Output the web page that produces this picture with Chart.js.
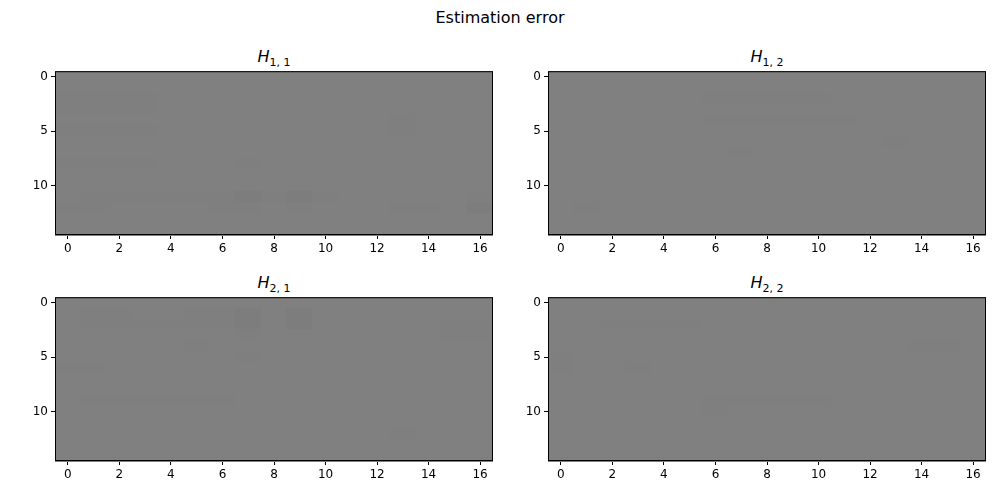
<!DOCTYPE html>
<html><head><meta charset="utf-8">
<script src="https://cdn.jsdelivr.net/npm/chart.js@4"></script>
<style>
body{margin:0;width:1000px;height:500px;background:#fff;position:relative;font-family:"DejaVu Sans";overflow:hidden}
.t{position:absolute;font-size:16px;text-align:center;width:440px}
.c{position:absolute}
</style></head><body>
<div style="position:absolute;top:8px;width:1000px;text-align:center;font-size:16px">Estimation error</div>
<div class="t" style="left:54px;top:47px"><i>H</i><sub style="font-size:11px">1, 1</sub></div>
<div class="t" style="left:547px;top:47px"><i>H</i><sub style="font-size:11px">1, 2</sub></div>
<div class="t" style="left:54px;top:273px"><i>H</i><sub style="font-size:11px">2, 1</sub></div>
<div class="t" style="left:547px;top:273px"><i>H</i><sub style="font-size:11px">2, 2</sub></div>
<canvas id="c0" class="c" style="left:15px;top:61px"></canvas>
<canvas id="c1" class="c" style="left:508px;top:61px"></canvas>
<canvas id="c2" class="c" style="left:15px;top:287px"></canvas>
<canvas id="c3" class="c" style="left:508px;top:287px"></canvas>
<script>
const xTicks=[0,2,4,6,8,10,12,14,16];
const yTicks=[0,5,10];
// deviation from mid-gray (128), per row (15 rows x 17 cols)
const H11=["00000000000000000","00000000000000000","11110000000000000","11110000000000000","00000000000001000",
"11110000000001000","00000000000000000","00000000000000000","11110001000000000","00000000000000000",
"00000000000000000","01111112121000001","11000011010001102","00000000000000000","00000000000000000"];
const H12=["00000000000000000","00000000000000000","00000011111000000","00000000000000000","00000011111100000",
"00000000000000000","00000000000001000","00000001000000000","00000000000000000","00000000000000000",
"00000000000000000","00000000000000000","01000000000000000","00000000000000000","00000000000000000"];
const H21=["00000000000000000","01100112020000000","01111112020000011","00000001000000011","00000100000000000",
"00000001000000000","11000000000000000","00000000000000000","00000000000000000","01111110000000000",
"00000000000000000","00000000000000000","00000000000001000","00000000000000000","00000000000000000"];
const H22=["00000000000000000","00000000000000000","00111100000000000","00000000000000000","00000000000000110",
"10000000000000000","10010000000000000","00000000000000000","00000000000000000","00000011111000000",
"00000010000000000","00000000000000000","00000000000000000","00000000000000000","00000000000000000"];
const mats=[H11,H12,H21,H22];
const heat={id:'heat',beforeDatasetsDraw(ch){
  const m=ch.options.plugins.heat.m,x=ch.scales.x,y=ch.scales.y,c=ch.ctx;
  m.forEach((row,r)=>{for(let k=0;k<row.length;k++){
    const v=Math.round(128-Number(row[k])*1.5);
    const x0=x.getPixelForValue(k-0.5),x1=x.getPixelForValue(k+0.5);
    const y0=y.getPixelForValue(r-0.5),y1=y.getPixelForValue(r+0.5);
    c.fillStyle=`rgb(${v},${v},${v})`;
    c.fillRect(Math.floor(x0),Math.floor(Math.min(y0,y1)),Math.ceil(x1-x0)+1,Math.ceil(Math.abs(y1-y0))+1);
  }});
},afterDraw(ch){const a=ch.chartArea,c=ch.ctx;c.strokeStyle='#000';c.lineWidth=1;c.strokeRect(a.left+0.5,a.top+0.5,a.right-a.left-1,a.bottom-a.top-1);}};
const ax=(ticks)=>({type:'linear',grid:{display:true,drawOnChartArea:false,tickLength:4,color:'#000'},border:{display:false},
  ticks:{color:'#000',font:{family:'DejaVu Sans',size:12},padding:3,autoSkip:false,maxRotation:0},afterBuildTicks(s){s.ticks=ticks.map(v=>({value:v}));}});
mats.forEach((m,i)=>{
  const cv=document.getElementById('c'+i);cv.width=478;cv.height=200;cv.style.width='478px';cv.style.height='200px';
  const xs=ax(xTicks);xs.min=-0.5;xs.max=16.5;xs.afterFit=s=>{s.height=26;};
  const ys=ax(yTicks);ys.min=-0.5;ys.max=14.5;ys.reverse=true;ys.afterFit=s=>{s.width=40;};
  new Chart(cv,{type:'scatter',data:{datasets:[{data:[]}]},plugins:[heat],
    options:{responsive:false,animation:false,devicePixelRatio:1,layout:{padding:0},
      plugins:{legend:{display:false},tooltip:{enabled:false},heat:{m}},
      scales:{x:xs,y:ys}}});
});
</script></body></html>
